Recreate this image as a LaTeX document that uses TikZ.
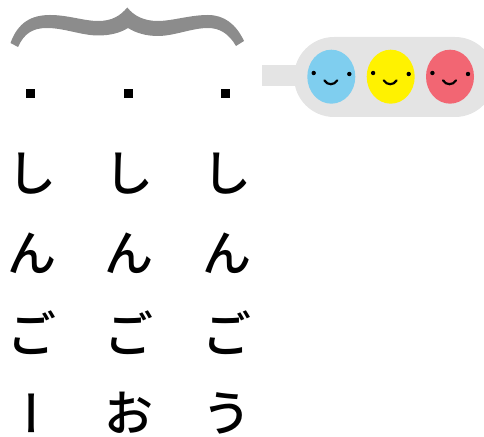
\documentclass[tikz,border=0pt]{standalone}
\usepackage{fontspec}
\newfontfamily\cjk{Noto Sans CJK JP Medium}
\newfontfamily\cjkv[RawFeature=+vert]{Noto Sans CJK JP Medium}
\definecolor{bracegray}{HTML}{8C8C8C}
\definecolor{pill}{HTML}{E4E4E4}
\definecolor{lblue}{HTML}{7FCEEF}
\definecolor{lyellow}{HTML}{FFF200}
\definecolor{lred}{HTML}{F26673}
\tikzset{
  kana/.style={inner sep=0pt,font=\fontsize{49}{49}\selectfont\cjk,text=black},
  dotsq/.style={fill=black,draw=none,minimum size=9pt,inner sep=0pt},
  eye/.style={fill=black,draw=none},
  smile/.style={draw=black,line width=2.2pt,line cap=round}
}
\newcommand{\facemark}[3]{%
  \fill[#3] (#1,#2) ellipse[x radius=24,y radius=27];
  \fill[eye] (#1-17.6,#2-3.7) circle[radius=2.2];
  \fill[eye] (#1+18,#2-2.7) circle[radius=2.2];
  \draw[smile] (#1-7,#2+3.6) .. controls (#1-4,#2+8.8) and (#1+3,#2+8.8) .. (#1+6,#2+3.6);
}
\begin{document}
\begin{tikzpicture}[x=1pt,y=1pt]
\useasboundingbox (0,0) rectangle (484,436);
\clip (0,0) rectangle (484,436);
\begin{scope}[yscale=-1,yshift=-436pt]
\fill[bracegray] (10.5,43) .. controls (18,22) and (32,15) .. (50,15)
  .. controls (68,15) and (84,21) .. (98,21)
  .. controls (112,21) and (120,16) .. (127.3,7.5)
  .. controls (134,16) and (144,21) .. (158,21)
  .. controls (172,21) and (190,15) .. (208,15)
  .. controls (224,15) and (236,24) .. (244,41)
  -- (236,46)
  .. controls (229,34) and (220,28) .. (208,28)
  .. controls (192,28) and (174,36) .. (158,36)
  .. controls (146,36) and (136,33) .. (128,28)
  .. controls (120,33) and (110,35.5) .. (98,35.5)
  .. controls (82,35.5) and (64,28) .. (47,28)
  .. controls (32,28) and (24,34) .. (18,47)
  -- cycle;
\node[dotsq] (d1) at (30.5,93.5) {};
\node[dotsq] (d2) at (128.5,93.5) {};
\node[dotsq] (d3) at (225.5,93.5) {};
\fill[pill] (262,65) rectangle (300,86);
\fill[pill,rounded corners=40pt] (294,37) rectangle (495,117);
\facemark{331.3}{76.7}{lblue}
\facemark{390.7}{76.7}{lyellow}
\facemark{450}{76.7}{lred}
\foreach \n/\x in {a/31.5,b/129,c/226.5}{
  \node[kana] (s\n) at (\x,174) {し};
  \node[kana] (n\n) at (\x,253) {ん};
  \node[kana] (g\n) at (\x,333) {ご};
}
\node[kana,font=\fontsize{49}{49}\selectfont\cjkv] (la) at (31.5,413) {ー};
\node[kana] (lb) at (129,413) {お};
\node[kana] (lc) at (226.5,413) {う};
\end{scope}
\end{tikzpicture}
\end{document}
